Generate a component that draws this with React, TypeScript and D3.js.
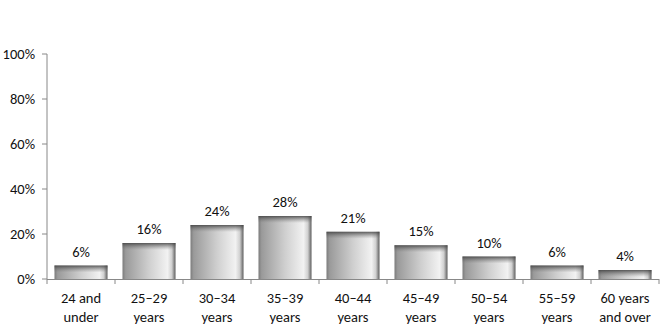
import React from "react";
import * as d3 from "d3";

const categories = [
  ["24 and", "under"],
  ["25–29", "years"],
  ["30–34", "years"],
  ["35–39", "years"],
  ["40–44", "years"],
  ["45–49", "years"],
  ["50–54", "years"],
  ["55–59", "years"],
  ["60 years", "and over"],
];
const values = [6, 16, 24, 28, 21, 15, 10, 6, 4];
const yTicks = [0, 20, 40, 60, 80, 100];

export default function App() {
  const W = 662, H = 327;
  const x0 = 47, x1 = 659, yTop = 54, yBot = 279;
  const x = d3.scaleBand<number>().domain(d3.range(values.length)).range([x0, x1]).paddingInner(0.22).paddingOuter(0.11);
  const y = d3.scaleLinear().domain([0, 100]).range([yBot, yTop]);
  const step = x.step();
  const font = "Carlito, 'Open Sans', 'Noto Sans', sans-serif";
  return (
    <svg width={W} height={H} style={{ position: "absolute", left: 0, top: 0, background: "#fff" }}>
      <defs>
        <linearGradient id="barH" x1="0" x2="1" y1="0" y2="0">
          <stop offset="0" stopColor="#7c7c7c" />
          <stop offset="0.06" stopColor="#9a9a9a" />
          <stop offset="0.5" stopColor="#cfcfcf" />
          <stop offset="0.85" stopColor="#f2f2f2" />
          <stop offset="0.93" stopColor="#d0d0d0" />
          <stop offset="1" stopColor="#5e5e5e" />
        </linearGradient>
        <linearGradient id="barTop" x1="0" x2="0" y1="0" y2="1">
          <stop offset="0" stopColor="#404040" stopOpacity="0.85" />
          <stop offset="1" stopColor="#808080" stopOpacity="0" />
        </linearGradient>
      </defs>
      <g fontFamily={font} fontSize={14.5} fill="#111">
        {yTicks.map((t) => (
          <g key={t}>
            <line x1={x0 - 5} x2={x0} y1={y(t)} y2={y(t)} stroke="#888" />
            <text x={x0 - 12} y={y(t)} dy="0.35em" textAnchor="end">{t}%</text>
          </g>
        ))}
        {values.map((v, i) => {
          const bx = x(i)!;
          const bw = x.bandwidth();
          const by = y(v);
          const bh = yBot - by;
          return (
            <g key={i}>
              <rect x={bx} y={by} width={bw} height={bh} fill="url(#barH)" />
              <rect x={bx} y={by} width={bw} height={Math.min(7, bh)} fill="url(#barTop)" />
              <text x={bx + bw / 2} y={by - 9} textAnchor="middle">{v}%</text>
            </g>
          );
        })}
        <line x1={x0} x2={x0} y1={yTop} y2={yBot} stroke="#888" />
        <line x1={x0} x2={x1} y1={yBot + 0.5} y2={yBot + 0.5} stroke="#888" />
        {d3.range(values.length + 1).map((i) => (
          <line key={i} x1={x0 + i * step} x2={x0 + i * step} y1={yBot} y2={yBot + 5} stroke="#888" />
        ))}
        {categories.map((c, i) => (
          <text key={i} x={x(i)! + x.bandwidth() / 2} y={303} textAnchor="middle">
            <tspan x={x(i)! + x.bandwidth() / 2}>{c[0]}</tspan>
            <tspan x={x(i)! + x.bandwidth() / 2} dy={18.5}>{c[1]}</tspan>
          </text>
        ))}
      </g>
    </svg>
  );
}
